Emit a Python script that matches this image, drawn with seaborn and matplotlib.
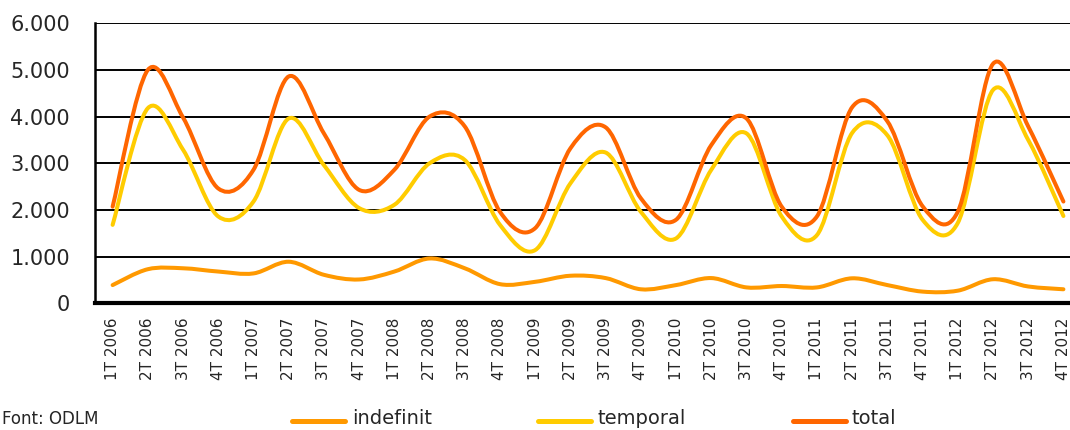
import numpy as np
import pandas as pd
import matplotlib
matplotlib.use("Agg")
import matplotlib.pyplot as plt
import seaborn as sns
from matplotlib.path import Path
from matplotlib.patches import PathPatch
from matplotlib.lines import Line2D
from matplotlib.ticker import FuncFormatter

# Dades llegides del gràfic (contractes per trimestre)
trimestres = ["1T 2006", "2T 2006", "3T 2006", "4T 2006",
              "1T 2007", "2T 2007", "3T 2007", "4T 2007",
              "1T 2008", "2T 2008", "3T 2008", "4T 2008",
              "1T 2009", "2T 2009", "3T 2009", "4T 2009",
              "1T 2010", "2T 2010", "3T 2010", "4T 2010",
              "1T 2011", "2T 2011", "3T 2011", "4T 2011",
              "1T 2012", "2T 2012", "3T 2012", "4T 2012"]

indefinit = [390, 730, 750, 680, 640, 890, 610, 510,
             680, 960, 750, 410, 460, 590, 540, 300,
             390, 540, 340, 370, 340, 535, 390, 250,
             270, 515, 360, 300]

temporal = [1680, 4180, 3290, 1860, 2180, 3960, 2960, 2040,
            2110, 3000, 3070, 1680, 1140, 2570, 3230, 1960,
            1390, 2860, 3640, 1860, 1460, 3650, 3600, 1790,
            1720, 4570, 3500, 1870]

total = [2070, 5000, 3980, 2460, 2860, 4860, 3640, 2430,
         2860, 4000, 3790, 1960, 1610, 3320, 3770, 2250,
         1790, 3390, 3960, 2070, 1860, 4200, 3900, 2080,
         1960, 5130, 3790, 2180]

series = {"indefinit": indefinit, "temporal": temporal, "total": total}
colors = {"indefinit": "#FF9900", "temporal": "#FFCC00", "total": "#FF6600"}


def corba_suau(xs, ys):
    # línia suavitzada tipus Excel (Bezier a partir dels punts)
    pts = np.column_stack([xs, ys]).astype(float)
    ext = np.vstack([pts[0], pts, pts[-1]])
    verts = [pts[0]]
    codes = [Path.MOVETO]
    for i in range(len(pts) - 1):
        p0, p1, p2, p3 = ext[i], ext[i + 1], ext[i + 2], ext[i + 3]
        verts += [p1 + (p2 - p0) / 6, p2 - (p3 - p1) / 6, p2]
        codes += [Path.CURVE4] * 3
    return Path(verts, codes)


sns.set_style("white")
plt.rcParams['font.family'] = ['DejaVu Sans']

df = pd.DataFrame(series)
df["pos"] = np.arange(len(trimestres))
df_long = df.melt(id_vars="pos", var_name="tipus", value_name="valor")

fig = plt.figure(figsize=(10.7, 4.3), dpi=100)
# l'eix continua una mica més enllà del marge dret (retallat com a l'original)
ax = fig.add_axes([0.0888, 0.2947, 0.9215, 0.6512])

sns.lineplot(data=df_long, x="pos", y="valor", hue="tipus",
             palette=colors, lw=0, legend=False, ax=ax)

for nom, vals in series.items():
    patch = PathPatch(corba_suau(df["pos"], vals), fill=False,
                      edgecolor=colors[nom], lw=2.9,
                      capstyle="round", joinstyle="round", zorder=3)
    ax.add_patch(patch)

ax.set_xlim(-0.5, len(trimestres) - 0.5)
ax.set_ylim(0, 6000)
ax.set_yticks(range(0, 6001, 1000))
ax.yaxis.set_major_formatter(FuncFormatter(lambda v, p: f"{int(v):,}".replace(",", ".")))
ax.set_xticks(df["pos"])
ax.set_xticklabels(trimestres, rotation=90, fontsize=11)
ax.set_xticks(np.arange(-0.5, len(trimestres)), minor=True)
ax.tick_params(axis="x", which="major", length=0, pad=10)
ax.tick_params(axis="x", which="minor", length=5, width=1.4, color="black", direction="out")
ax.tick_params(axis="y", length=6, width=1.4, color="black", direction="out",
               labelsize=15, pad=12)
ax.set_xlabel("")
ax.set_ylabel("")

ax.yaxis.grid(True, color="black", lw=1.4)
ax.set_axisbelow(True)
for s in ["top", "right"]:
    ax.spines[s].set_visible(False)
ax.spines["left"].set_color("black")
ax.spines["left"].set_linewidth(1.8)
ax.spines["bottom"].set_color("black")
ax.spines["bottom"].set_linewidth(3)
ax.spines["bottom"].set_zorder(4)

# llegenda a sota
fig.text(0.002, 0.004, "Font: ODLM", fontsize=12, va="bottom", ha="left")
posicions = {"indefinit": (292, 352), "temporal": (538, 597), "total": (793, 851)}
for nom, (x_linia, x_text) in posicions.items():
    fig.add_artist(Line2D([x_linia / 1070, (x_linia + 53) / 1070], [0.022, 0.022],
                          color=colors[nom], lw=3.6, transform=fig.transFigure))
    fig.text(x_text / 1070, 0.004, nom, fontsize=14, va="bottom", ha="left")

fig.savefig("out.png", dpi=100)
